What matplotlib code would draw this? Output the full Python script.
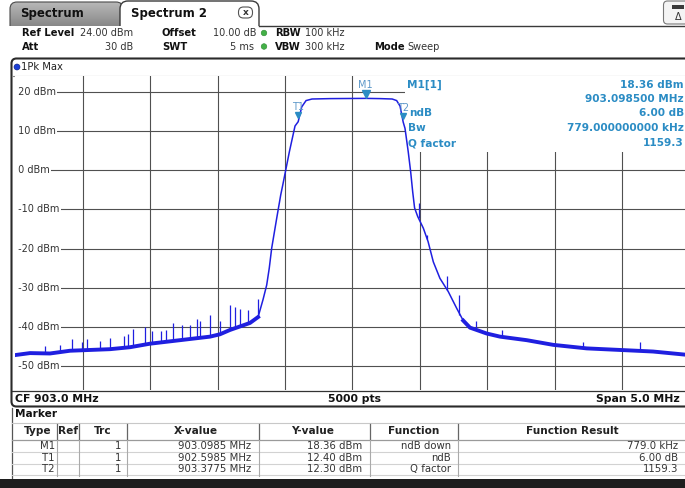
import numpy as np
import matplotlib
matplotlib.use("Agg")
import matplotlib.pyplot as plt
from matplotlib.patches import Rectangle, FancyBboxPatch, Circle
from matplotlib.colors import LinearSegmentedColormap
from matplotlib.transforms import offset_copy

# ---------------- trace data (MHz, dBm) ----------------
trace_freq = [900.500, 900.609, 900.757, 900.906, 901.054, 901.203, 901.351, 901.499,
              901.722, 901.944, 902.018, 902.092, 902.241, 902.301, 902.338, 902.365,
              902.384, 902.402, 902.439, 902.469, 902.484, 902.533, 902.575, 902.5985,
              902.625, 902.657, 902.701, 902.835, 903.0985, 903.207, 903.296, 903.329,
              903.354, 903.3775, 903.391, 903.415, 903.433, 903.448, 903.462, 903.485,
              903.527, 903.562, 903.601, 903.650, 903.712, 903.775, 903.823, 903.873,
              903.997, 904.096, 904.294, 904.491, 904.739, 904.986, 905.231, 905.500]
trace_dbm = [-47.2, -46.7, -46.8, -46.1, -45.9, -45.7, -45.2, -44.3,
             -43.4, -42.5, -41.9, -40.8, -39.0, -37.5, -33.0, -29.3,
             -25.0, -19.9, -12.3, -6.3, -3.8, 4.7, 11.3, 12.40,
             16.2, 17.8, 18.2, 18.3, 18.36, 18.3, 18.2, 17.8,
             16.4, 12.30, 10.7, 4.7, -0.4, -5.5, -9.6, -11.8,
             -14.8, -18.2, -23.4, -27.6, -31.0, -35.3, -38.4, -40.2,
             -41.7, -42.5, -43.4, -44.6, -45.5, -45.9, -46.3, -47.2]

# narrow spurs riding on the noise floor
spike_freq = [900.720, 900.832, 900.918, 900.993, 901.034, 901.128, 901.203, 901.306,
              901.338, 901.371, 901.462, 901.514, 901.579, 901.618, 901.668, 901.734,
              901.796, 901.846, 901.870, 901.944, 902.018, 902.092, 902.130, 902.167,
              902.229, 902.303,
              903.494, 903.553, 903.700, 903.789, 903.915, 904.111, 904.712, 905.134]
spike_top = [-45.0, -44.6, -43.2, -43.8, -43.1, -43.6, -42.9, -42.3,
             -41.7, -40.6, -40.1, -41.0, -41.0, -40.7, -39.1, -39.5,
             -39.6, -38.1, -38.4, -37.0, -38.5, -34.4, -34.9, -35.5,
             -35.7, -33.0,
             -8.4, -16.5, -27.0, -31.9, -38.5, -40.8, -43.8, -43.8]
spike_floor = [-46.8, -46.5, -46.1, -46.0, -45.9, -45.8, -45.7, -45.4,
               -45.3, -45.1, -44.6, -44.3, -44.0, -43.9, -43.7, -43.4,
               -43.1, -42.9, -42.8, -42.5, -41.9, -40.8, -40.4, -40.0,
               -39.2, -37.5,
               -12.3, -17.5, -30.5, -37.0, -40.8, -42.6, -45.4, -46.1]

level_ticks = [20, 10, 0, -10, -20, -30, -40, -50]
freq_ticks = [901.0, 901.5, 902.0, 902.5, 903.0, 903.5, 904.0, 904.5, 905.0]

marker_names = ["M1", "T1", "T2"]
marker_freq = [903.0985, 902.5985, 903.3775]
marker_level = [18.36, 12.40, 12.30]
marker_func = ["ndB down", "ndB", "Q factor"]
marker_result = ["779.0 kHz", "6.00 dB", "1159.3"]

info_values = ["18.36 dBm", "903.098500 MHz", "6.00 dB", "779.000000000 kHz", "1159.3"]

TRACE = "#1f1fe0"
MARK = "#2b8cc4"
GRID = "#505050"

W, H = 685, 488
fig = plt.figure(figsize=(W / 100, H / 100), dpi=100)
fig.patch.set_facecolor("white")

# ---------------- pixel-space background layer ----------------
bg = fig.add_axes([0, 0, 1, 1], zorder=0)
bg.set_axis_off()

# tab bar
tab1 = FancyBboxPatch((10, 2), 113, 34, boxstyle="round,pad=0,rounding_size=7",
                      fc="none", ec="#4a4a4a", lw=0.8, zorder=1)
bg.add_patch(tab1)
grad = np.linspace(0, 1, 60).reshape(-1, 1)
im = bg.imshow(grad, extent=(10, 123, 36, 2), aspect="auto", zorder=0.5,
               cmap=LinearSegmentedColormap.from_list("tab", ["#b8b8b8", "#747474"]))
im.set_clip_path(tab1)
tab2 = FancyBboxPatch((120, 1), 139, 34, boxstyle="round,pad=0,rounding_size=8",
                      fc="white", ec="#3a3a3a", lw=1.0, zorder=2)
bg.add_patch(tab2)
bg.add_patch(Rectangle((0, 25.5), W, 40, fc="white", ec="none", zorder=3))
bg.plot([259, W], [25.5, 25.5], color="#3a3a3a", lw=1.0, zorder=4)
bg.text(20, 13.5, "Spectrum", fontsize=8.5, fontweight="bold", color="#111",
        va="center", ha="left", zorder=4)
bg.text(131, 13.5, "Spectrum 2", fontsize=8.5, fontweight="bold", color="#111",
        va="center", ha="left", zorder=4)
bg.add_patch(FancyBboxPatch((238.5, 7), 14, 11, boxstyle="round,pad=0,rounding_size=5",
                            fc="white", ec="#555", lw=0.8, zorder=4))
bg.text(245.5, 12.5, "x", fontsize=6.5, fontweight="bold", color="#333",
        ha="center", va="center", zorder=5)
bg.add_patch(FancyBboxPatch((663.5, 1), 30, 23, boxstyle="round,pad=0,rounding_size=4",
                            fc="#f4f4f4", ec="#777", lw=0.8, zorder=4))
bg.add_patch(Rectangle((672, 5), 12, 4, fc="#3a3a3a", ec="none", zorder=5))
bg.text(678, 16.5, "\u0394", fontsize=7, color="#333", ha="center", va="center", zorder=5)

# setting header
hb = dict(fontsize=7.2, fontweight="bold", color="#111", va="center", zorder=5)
hr = dict(fontsize=7.0, color="#333", va="center", zorder=5)
bg.text(22, 33, "Ref Level", ha="left", **hb)
bg.text(133, 33, "24.00 dBm", ha="right", **hr)
bg.text(162, 33, "Offset", ha="left", **hb)
bg.text(257, 33, "10.00 dB", ha="right", **hr)
bg.text(275, 33, "RBW", ha="left", **hb)
bg.text(305, 33, "100 kHz", ha="left", **hr)
bg.text(22, 46.5, "Att", ha="left", **hb)
bg.text(133, 46.5, "30 dB", ha="right", **hr)
bg.text(162, 46.5, "SWT", ha="left", **hb)
bg.text(254, 46.5, "5 ms", ha="right", **hr)
bg.text(275, 46.5, "VBW", ha="left", **hb)
bg.text(305, 46.5, "300 kHz", ha="left", **hr)
bg.text(374, 46.5, "Mode", ha="left", **hb)
bg.text(407, 46.5, "Sweep", ha="left", **hr)
for yy in (33, 46.5):
    bg.add_patch(Circle((264, yy), 2.8, fc="#43b047", ec="#2f8a33", lw=0.4, zorder=5))

# window frame, trace label row, bottom status row
bg.add_patch(FancyBboxPatch((11.5, 58.5), 700, 348, boxstyle="round,pad=0,rounding_size=5",
                            fc="white", ec="#2a2a2a", lw=1.5, zorder=3))
bg.plot([12, W], [75.5, 75.5], color="#8a8a8a", lw=0.8, zorder=4)
bg.plot([12, W], [390.5, 390.5], color="#333", lw=0.9, zorder=4)
bg.add_patch(Circle((17, 67), 3.0, fc="#1c3fd6", ec="#0d1f80", lw=0.4, zorder=5))
bg.text(21.5, 67, "1Pk Max", fontsize=7.2, color="#222", va="center", ha="left", zorder=5)
bg.text(15, 398.5, "CF 903.0 MHz", fontsize=7.8, fontweight="bold", color="#111",
        va="center", ha="left", zorder=5)
bg.text(355, 398.5, "5000 pts", fontsize=7.8, fontweight="bold", color="#111",
        va="center", ha="center", zorder=5)
bg.text(680, 398.5, "Span 5.0 MHz", fontsize=7.8, fontweight="bold", color="#111",
        va="center", ha="right", zorder=5)

# marker table
bg.plot([12, 12], [408, 479], color="#555", lw=0.9, zorder=4)
bg.text(15, 414, "Marker", fontsize=7.6, fontweight="bold", color="#111",
        va="center", ha="left", zorder=5)
bg.plot([12, W], [422.5, 422.5], color="#c8c8c8", lw=0.8, zorder=4)
bg.plot([12, W], [439.5, 439.5], color="#9a9a9a", lw=0.9, zorder=4)
for yy in (452, 463.5, 475):
    bg.plot([12, W], [yy, yy], color="#d2d2d2", lw=0.8, zorder=4)
col_div = [57, 79, 127, 259, 370, 458]
for xx in col_div:
    bg.plot([xx, xx], [424, 439], color="#666", lw=0.9, zorder=4)
    bg.plot([xx, xx], [440, 476], color="#aaa", lw=0.8, zorder=4)
headers = [("Type", 38), ("Ref", 68), ("Trc", 103), ("X-value", 196),
           ("Y-value", 313), ("Function", 414), ("Function Result", 572)]
for name, cx in headers:
    bg.text(cx, 431.5, name, fontsize=7.6, fontweight="bold", color="#222",
            ha="center", va="center", zorder=5)
row_y = [445.8, 457.6, 469.3]
rowfont = dict(fontsize=7.3, color="#333", va="center", ha="right", zorder=5)
for i, ry in enumerate(row_y):
    bg.text(55, ry, marker_names[i], **rowfont)
    bg.text(121, ry, "1", **rowfont)
    bg.text(251, ry, f"{marker_freq[i]:.4f} MHz", **rowfont)
    bg.text(362, ry, f"{marker_level[i]:.2f} dBm", **rowfont)
    bg.text(451, ry, marker_func[i], **rowfont)
    bg.text(678, ry, marker_result[i], **rowfont)
bg.add_patch(Rectangle((0, 479), W, 10, fc="#1e1e1e", ec="none", zorder=6))

bg.set_xlim(0, W)
bg.set_ylim(H, 0)

# ---------------- spectrum diagram ----------------
ax = fig.add_axes([15.3 / W, (H - 389.5) / H, 674 / W, 313.2 / H], zorder=1)
ax.set_xlim(900.5, 905.5)
ax.set_ylim(-56, 24)
ax.set_xticks([])
ax.set_yticks([])
for sp in ax.spines.values():
    sp.set_visible(False)

for f in freq_ticks:
    ax.axvline(f, color=GRID, lw=0.8, zorder=1)
for lv in level_ticks:
    ax.axhline(lv, color=GRID, lw=0.8, zorder=1)
    ax.text(900.5, lv, f" {lv} dBm", fontsize=7.0, color="#333", va="center", ha="left",
            bbox=dict(fc="white", ec="none", pad=0.8), zorder=2)
# marker result panel blanks the grid underneath it
ax.add_patch(Rectangle((903.393, 4.67), 2.5, 25, fc="white", ec="none", zorder=1.5))

tf = np.array(trace_freq)
td = np.array(trace_dbm)
ax.plot(tf, td, color=TRACE, lw=1.1, zorder=3, solid_joinstyle="miter")
ax.plot(tf, np.where(td < -36.5, td, np.nan), color=TRACE, lw=2.8, zorder=3)
ax.vlines(spike_freq, spike_floor, spike_top, color=TRACE, lw=0.9, zorder=3)

# markers
up4 = offset_copy(ax.transData, fig=fig, x=0, y=3.3, units="points")
ax.plot(marker_freq[0], marker_level[0], marker="v", ms=6, color=MARK,
        transform=up4, zorder=4, clip_on=False)
ax.annotate(marker_names[0], xy=(marker_freq[0], marker_level[0]), xytext=(0, 9.5),
            textcoords="offset points", ha="center", va="center", fontsize=7,
            color="#5d98c9", zorder=4)
up_t = offset_copy(ax.transData, fig=fig, x=0, y=4.5, units="points")
for i in (1, 2):
    ax.plot(marker_freq[i], marker_level[i], marker="v", ms=4, color=MARK,
            transform=up_t, zorder=4)
    ax.annotate(marker_names[i], xy=(marker_freq[i], marker_level[i]), xytext=(0, 10.5),
                textcoords="offset points", ha="center", va="center", fontsize=7,
                color="#5d98c9", zorder=4)

# ---------------- foreground text over the diagram ----------------
fg = fig.add_axes([0, 0, 1, 1], zorder=2)
fg.set_axis_off()
fg.patch.set_alpha(0)
fg.set_xlim(0, W)
fg.set_ylim(H, 0)
info = dict(fontsize=7.6, fontweight="bold", color=MARK, va="center", zorder=5)
fg.text(407, 84.5, "M1[1]", ha="left", **info)
for val, yy in zip(info_values, [84.5, 99, 113.5, 128, 143]):
    fg.text(684, yy, val, ha="right", **info)
fg.text(409, 113.5, "ndB", ha="left", **info)
fg.text(408, 128, "Bw", ha="left", **info)
fg.text(408, 143, "Q factor", ha="left", **info)

fig.savefig("out.png", dpi=100)
